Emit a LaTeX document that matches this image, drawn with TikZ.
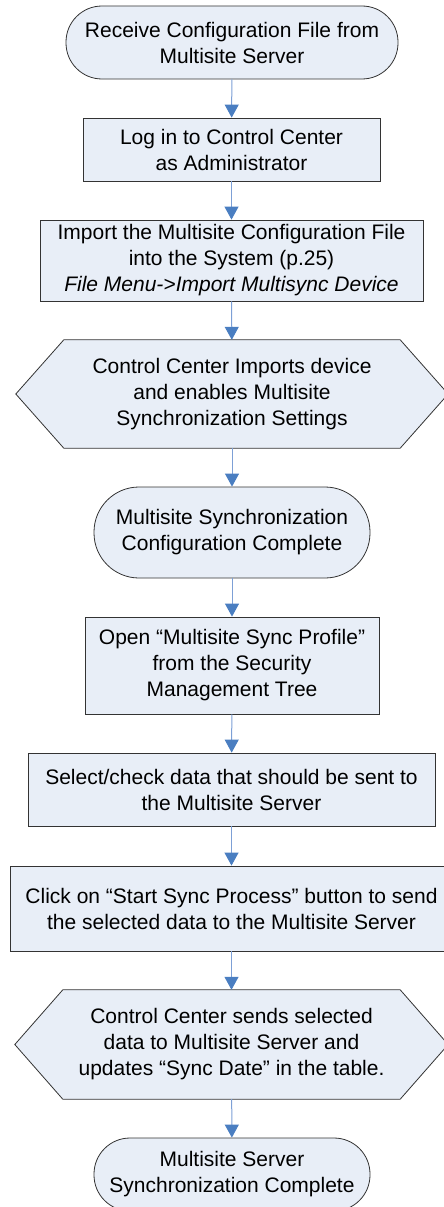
\documentclass[tikz,border=0pt]{standalone}
\usepackage{fontspec}
\setmainfont{Liberation Sans}
\usetikzlibrary{arrows.meta,calc,backgrounds}
\definecolor{boxfill}{RGB}{232,238,247}
\definecolor{flowline}{RGB}{125,160,214}
\definecolor{flowtip}{RGB}{74,126,193}

\begin{document}
\begin{tikzpicture}[x=1pt, y=-1pt,
    txt/.style={align=center, inner sep=0pt, font=\fontsize{21pt}{26pt}\selectfont},
    procbox/.style={txt, draw=black!80, line width=0.8pt, fill=boxfill, rectangle},
    termbox/.style={procbox, rounded corners=#1},
    hexbox/.style={txt, rectangle},
    hexline/.style={draw=black!80, line width=0.8pt, fill=boxfill},
    flow/.style={draw=flowline, line width=1pt, -{Triangle[width=14pt, length=13pt, color=flowtip]}}]
    \useasboundingbox (0,0) rectangle (444,1207);

    % Debut
    \node[termbox=36pt, minimum width=332pt, minimum height=73pt] (recv) at (232,42.5)
        {Receive Configuration File from\\Multisite Server};
    \node[procbox, minimum width=297pt, minimum height=63pt] (login) at (231.5,149.5)
        {Log in to Control Center\\as Administrator};
    \node[procbox, minimum width=383pt, minimum height=81pt] (import) at (231.5,260.5)
        {Import the Multisite Configuration File\\into the System (p.25)\\\textit{File Menu->Import Multisync Device}};
    \node[hexbox, minimum width=336pt, minimum height=108pt] (enable) at (232,394)
        {Control Center Imports device\\and enables Multisite\\Synchronization Settings};
    \node[termbox=45pt, minimum width=276pt, minimum height=91pt] (confok) at (232,532.5)
        {Multisite Synchronization\\Configuration Complete};

    % Synchronisation
    \node[procbox, minimum width=294pt, minimum height=97pt] (profile) at (232,665.5)
        {Open “Multisite Sync Profile”\\from the Security\\Management Tree};
    \node[procbox, minimum width=407pt, minimum height=73pt] (select) at (231.5,789.5)
        {Select/check data that should be sent to\\the Multisite Server};
    \node[procbox, minimum width=443pt, minimum height=85pt] (start) at (231.5,908.5)
        {Click on “Start Sync Process” button to send\\the selected data to the Multisite Server};
    \node[hexbox, minimum width=337pt, minimum height=109pt] (send) at (231.5,1044.5)
        {Control Center sends selected\\data to Multisite Server and\\updates “Sync Date” in the table.};
    \node[termbox=36pt, minimum width=276pt, minimum height=73pt] (syncok) at (232,1174.5)
        {Multisite Server\\Synchronization Complete};

    % Hexagones
    \begin{scope}[on background layer]
        \foreach \h in {enable,send}
            \draw[hexline] (\h.north west) -- ($(\h.west)+(-48,0)$) -- (\h.south west)
                -- (\h.south east) -- ($(\h.east)+(48,0)$) -- (\h.north east) -- cycle;
    \end{scope}

    % Fleches
    \draw[flow] (recv) -- (login);
    \draw[flow] (login) -- (import);
    \draw[flow] (import) -- (enable);
    \draw[flow] (enable) -- (confok);
    \draw[flow] (confok) -- (profile);
    \draw[flow] (profile) -- (select);
    \draw[flow] (select) -- (start);
    \draw[flow] (start) -- (send);
    \draw[flow] (send) -- (syncok);
\end{tikzpicture}
\end{document}
